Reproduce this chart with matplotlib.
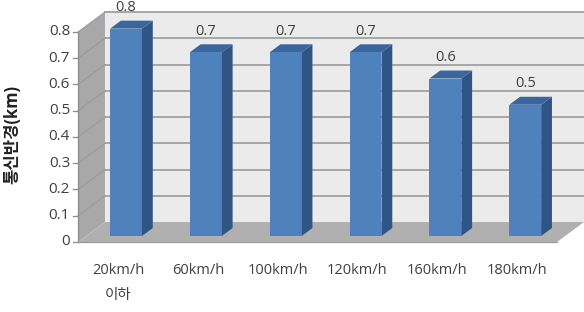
import matplotlib
matplotlib.use("Agg")
import matplotlib.pyplot as plt
from matplotlib.patches import Polygon

plt.rcParams['font.family'] = ['Open Sans', 'Noto Sans CJK KR', 'DejaVu Sans']

# ---------- data ----------------------------------------------------
categories = ["20km/h\n이하", "60km/h", "100km/h", "120km/h", "160km/h", "180km/h"]
values = [0.79, 0.70, 0.70, 0.70, 0.60, 0.50]
y_ticks = [0, 0.1, 0.2, 0.3, 0.4, 0.5, 0.6, 0.7, 0.8]
y_label = "통신반경(km)"

# ---------- fake 3d look ---------------------------------------------
DX, DY = 0.338, 0.076      # oblique offset for full depth (data units)
BAR_D0, BAR_D1 = 0.3, 0.7  # bar position along depth
HALF_W = 0.2               # half bar width (category units)
VMAX = y_ticks[-1]

FRONT = "#4f81bd"
SIDE = "#2f5585"
TOP = "#3a669e"
TXT = "#404040"


def proj(x, v, d):
    return (x + d * DX, v + d * DY)


def poly(ax, pts, color, z, ec="none"):
    ax.add_patch(Polygon(pts, closed=True, facecolor=color, edgecolor=ec,
                         linewidth=0.8, zorder=z))


fig = plt.figure(figsize=(5.84, 3.12), dpi=100)
ax = fig.add_axes([0, 0, 1, 1])
n = len(categories)
ax.set_xlim(-0.977, 6.338)
ax.set_ylim(-0.2667, 0.9219)
ax.axis("off")

# back wall
poly(ax, [proj(0, 0, 1), proj(n, 0, 1), proj(n, VMAX, 1), proj(0, VMAX, 1)], "#ebebeb", 1)
# side wall
poly(ax, [proj(0, 0, 0), proj(0, 0, 1), proj(0, VMAX, 1), proj(0, VMAX, 0)], "#a8a8a8", 1)
# floor
poly(ax, [proj(0, 0, 0), proj(n, 0, 0), proj(n, 0, 1), proj(0, 0, 1)], "#b0b0b0", 1)

# gridlines + ticks
for t in y_ticks:
    if t > 0:
        xs, ys = zip(proj(0, t, 1), proj(n, t, 1))
        ax.plot(xs, ys, color="#a6a6a6", lw=1.4, zorder=2)
        xs, ys = zip(proj(0, t, 0), proj(0, t, 1))
        ax.plot(xs, ys, color="#9a9a9a", lw=0.8, zorder=2)
    ax.plot([-0.06, 0], [t, t], color="#8c8c8c", lw=0.9, zorder=2)
    ax.text(-0.1, t, f"{t:g}", ha="right", va="center", fontsize=11, color=TXT)

ax.plot([0, 0], [0, VMAX], color="#8c8c8c", lw=0.9, zorder=2)
ax.plot([0, n], [0, 0], color="#9a9a9a", lw=0.9, zorder=2)

# bars
for i, v in enumerate(values):
    c = i + 0.5
    x0, x1 = c - HALF_W, c + HALF_W
    # side face
    poly(ax, [proj(x1, 0, BAR_D0), proj(x1, 0, BAR_D1), proj(x1, v, BAR_D1), proj(x1, v, BAR_D0)], SIDE, 5)
    # top face
    poly(ax, [proj(x0, v, BAR_D0), proj(x1, v, BAR_D0), proj(x1, v, BAR_D1), proj(x0, v, BAR_D1)], TOP, 5)
    # front face
    poly(ax, [proj(x0, 0, BAR_D0), proj(x1, 0, BAR_D0), proj(x1, v, BAR_D0), proj(x0, v, BAR_D0)], FRONT, 6)
    lx, ly = proj(c, v, BAR_D0)
    ax.annotate(f"{v:.1f}", (lx, ly), xytext=(0, 15), textcoords="offset points",
                ha="center", va="center", fontsize=10.5, color=TXT, zorder=7)
    ax.text(c, -0.080, categories[i], ha="center", va="top", fontsize=10.5,
            color=TXT, linespacing=1.9)

ax.text(-0.82, 0.41, y_label, rotation=90, ha="center", va="center",
        fontsize=12, fontweight="bold", color="#222222")

fig.savefig("out.png", dpi=100)
